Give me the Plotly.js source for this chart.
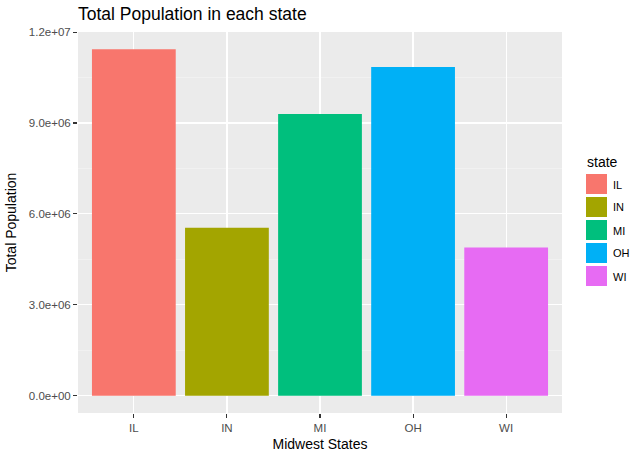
<!DOCTYPE html>
<html>
<head>
<meta charset="utf-8">
<script src="https://cdn.plot.ly/plotly-3.0.1.min.js"></script>
<style>html,body{margin:0;padding:0;background:#fff;}#chart{width:643px;height:454px;}</style>
</head>
<body>
<div id="chart"></div>
<script>
var states = ["IL", "IN", "MI", "OH", "WI"];
var population = [11430602, 5544159, 9295297, 10847115, 4891769];
var colors = ["#F8766D", "#A3A500", "#00BF7D", "#00B0F6", "#E76BF3"];
var yTickVals = [0, 3000000, 6000000, 9000000, 12000000];
var yTickText = ["0.0e+00", "3.0e+06", "6.0e+06", "9.0e+06", "1.2e+07"];

var W = 643, H = 454;
var margin = {l: 78, r: 81, t: 32, b: 41};
var maxV = Math.max.apply(null, population);

var trace = {
  type: "bar",
  x: states,
  y: population,
  width: 0.9,
  marker: {color: colors, line: {width: 0}},
  showlegend: false,
  hoverinfo: "x+y"
};

// legend built from the same arrays
var shapes = [];
var annotations = [];
var keyX0 = 586, keyX1 = 607, keyTop = 173, keyStep = 23;
var pw = W - margin.l - margin.r, ph = H - margin.t - margin.b;
for (var i = 0; i < states.length; i++) {
  var t = keyTop + i * keyStep;
  shapes.push({type: "rect", xref: "paper", yref: "paper",
    x0: (keyX0 - margin.l) / pw,
    x1: (keyX1 - margin.l) / pw,
    y0: (H - margin.b - (t + keyStep - 2)) / ph,
    y1: (H - margin.b - (t + 1)) / ph,
    fillcolor: colors[i], line: {width: 0}});
  annotations.push({xref: "paper", yref: "paper",
    x: (611 - margin.l) / pw,
    y: (H - margin.b - (t + keyStep / 2)) / ph,
    xanchor: "left", yanchor: "middle", showarrow: false,
    text: states[i], font: {family: "Liberation Sans, Arial, sans-serif", size: 11, color: "#000000"}});
}
annotations.push({xref: "paper", yref: "paper",
  x: (585 - margin.l) / pw,
  y: (H - margin.b - 162) / ph,
  xanchor: "left", yanchor: "middle", showarrow: false,
  text: "state", font: {family: "Liberation Sans, Arial, sans-serif", size: 14, color: "#000000"}});

var layout = {
  width: W, height: H,
  margin: margin,
  paper_bgcolor: "#ffffff",
  plot_bgcolor: "#EBEBEB",
  font: {family: "Liberation Sans, Arial, sans-serif"},
  title: {text: "Total Population in each state", xref: "container", yref: "container",
    x: 78 / W, xanchor: "left", y: 1 - 14 / H, yanchor: "middle",
    font: {size: 17.5, color: "#000000"}},
  bargap: 0.1,
  xaxis: {
    type: "category",
    range: [-0.6, 4.6],
    showgrid: true, gridcolor: "#ffffff", gridwidth: 1.2,
    zeroline: false, showline: false,
    ticks: "outside", ticklen: 4, tickcolor: "#333333", tickwidth: 1.1,
    tickfont: {size: 11.5, color: "#4D4D4D"},
    title: {text: "Midwest States", font: {size: 14, color: "#000000"}, standoff: 6}
  },
  yaxis: {
    range: [-0.05 * maxV, 1.05 * maxV],
    tickvals: yTickVals, ticktext: yTickText,
    showgrid: true, gridcolor: "#ffffff", gridwidth: 1.2,
    minor: {dtick: 1500000, tick0: 1500000, showgrid: true, gridcolor: "#F5F5F5", gridwidth: 0.6, ticks: ""},
    zeroline: false, showline: false,
    ticks: "outside", ticklen: 4, tickcolor: "#333333", tickwidth: 1.1,
    tickfont: {size: 11.5, color: "#4D4D4D"},
    title: {text: "Total Population", font: {size: 14, color: "#000000"}, standoff: 8}
  },
  shapes: shapes,
  annotations: annotations
};

Plotly.newPlot("chart", [trace], layout, {displayModeBar: false, staticPlot: true});
</script>
</body>
</html>
